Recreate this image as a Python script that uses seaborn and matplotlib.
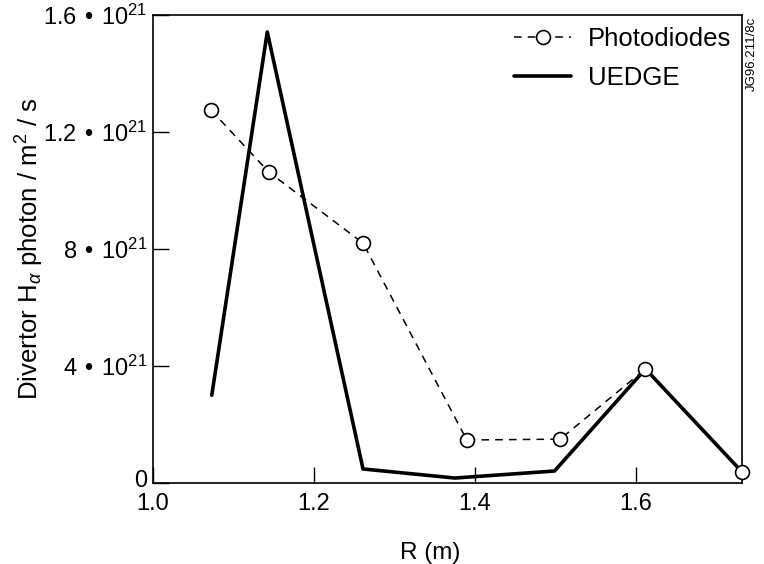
import matplotlib
matplotlib.use("Agg")
import matplotlib.pyplot as plt
import matplotlib.transforms as mtransforms
import seaborn as sns
import pandas as pd

# Measured photodiode H-alpha emission along the divertor
photo_r = [1.072, 1.144, 1.261, 1.390, 1.506, 1.612, 1.732]
photo_val = [12.75, 10.63, 8.2, 1.47, 1.5, 3.9, 0.38]

# UEDGE simulation
uedge_r = [1.073, 1.142, 1.261, 1.375, 1.499, 1.612, 1.732]
uedge_val = [3.0, 15.42, 0.48, 0.17, 0.41, 3.9, 0.38]

x_ticks = [1.0, 1.2, 1.4, 1.6]
x_tick_labels = ["1.0", "1.2", "1.4", "1.6"]
y_ticks = [0, 4, 8, 12, 16]
y_tick_labels = ["0",
                 "4 \u200a•\u200a 10$^{21}$",
                 "8 \u200a•\u200a 10$^{21}$",
                 "1.2 \u200a•\u200a 10$^{21}$",
                 "1.6 \u200a•\u200a 10$^{21}$"]

sns.set_style("ticks")
plt.rcParams["font.family"] = ["Liberation Sans", "DejaVu Sans"]
plt.rcParams["mathtext.fontset"] = "custom"
plt.rcParams["mathtext.rm"] = "Liberation Sans"
plt.rcParams["mathtext.it"] = "Liberation Sans:italic"
plt.rcParams["text.color"] = "black"
plt.rcParams["axes.labelcolor"] = "black"

photo_df = pd.DataFrame({"R": photo_r, "val": photo_val})
uedge_df = pd.DataFrame({"R": uedge_r, "val": uedge_val})

fig = plt.figure(figsize=(7.64, 5.64), dpi=100)
ax = fig.add_axes([0.2003, 0.1436, 0.9712 - 0.2003, 0.9734 - 0.1436])

sns.lineplot(data=uedge_df, x="R", y="val", ax=ax, color="black",
             linewidth=2.6, sort=False, label="UEDGE", zorder=2)
sns.lineplot(data=photo_df, x="R", y="val", ax=ax, color="black",
             linewidth=1.1, linestyle=(0, (5, 4)), marker="o", markersize=10,
             markerfacecolor="white", markeredgecolor="black",
             markeredgewidth=1.2, sort=False, label="Photodiodes",
             zorder=3, clip_on=False)

ax.set_xlim(1.0, 1.732)
ax.set_ylim(0, 16)
ax.set_xticks(x_ticks)
ax.set_xticklabels(x_tick_labels)
ax.set_yticks(y_ticks)
ax.set_yticklabels(y_tick_labels)

for side in ["left", "right", "top", "bottom"]:
    ax.spines[side].set_visible(True)
    ax.spines[side].set_linewidth(1.2)
    ax.spines[side].set_color("black")

ax.tick_params(axis="both", direction="in", length=11.5, width=1.0,
               labelsize=17, colors="black")
ax.tick_params(axis="x", pad=7)
ax.tick_params(axis="y", pad=4)

# lift the zero label a little so it clears the x tick labels
zero_lbl = ax.get_yticklabels()[0]
zero_lbl.set_transform(zero_lbl.get_transform() +
                       mtransforms.ScaledTranslation(0, 5 / 100,
                                                     fig.dpi_scale_trans))

ax.set_xlabel("R (m)", fontsize=17.5)
ax.xaxis.set_label_coords(0.47, -0.125)
ax.set_ylabel(r"Divertor H$_\alpha$ photon / m$^2$ / s", fontsize=18.5)
ax.yaxis.set_label_coords(-0.182, 0.5)

handles, labels = ax.get_legend_handles_labels()
order = [labels.index("Photodiodes"), labels.index("UEDGE")]
ax.legend([handles[i] for i in order], [labels[i] for i in order],
          loc="upper right", frameon=False, fontsize=18.5, handlelength=2.2,
          handletextpad=0.65, borderaxespad=0.3, labelspacing=0.55,
          bbox_to_anchor=(1.012, 1.012))

fig.text(0.984, 0.97, "JG96.211/8c", rotation=90, fontsize=9.5,
         ha="center", va="top")

fig.savefig("out.png", dpi=100)
